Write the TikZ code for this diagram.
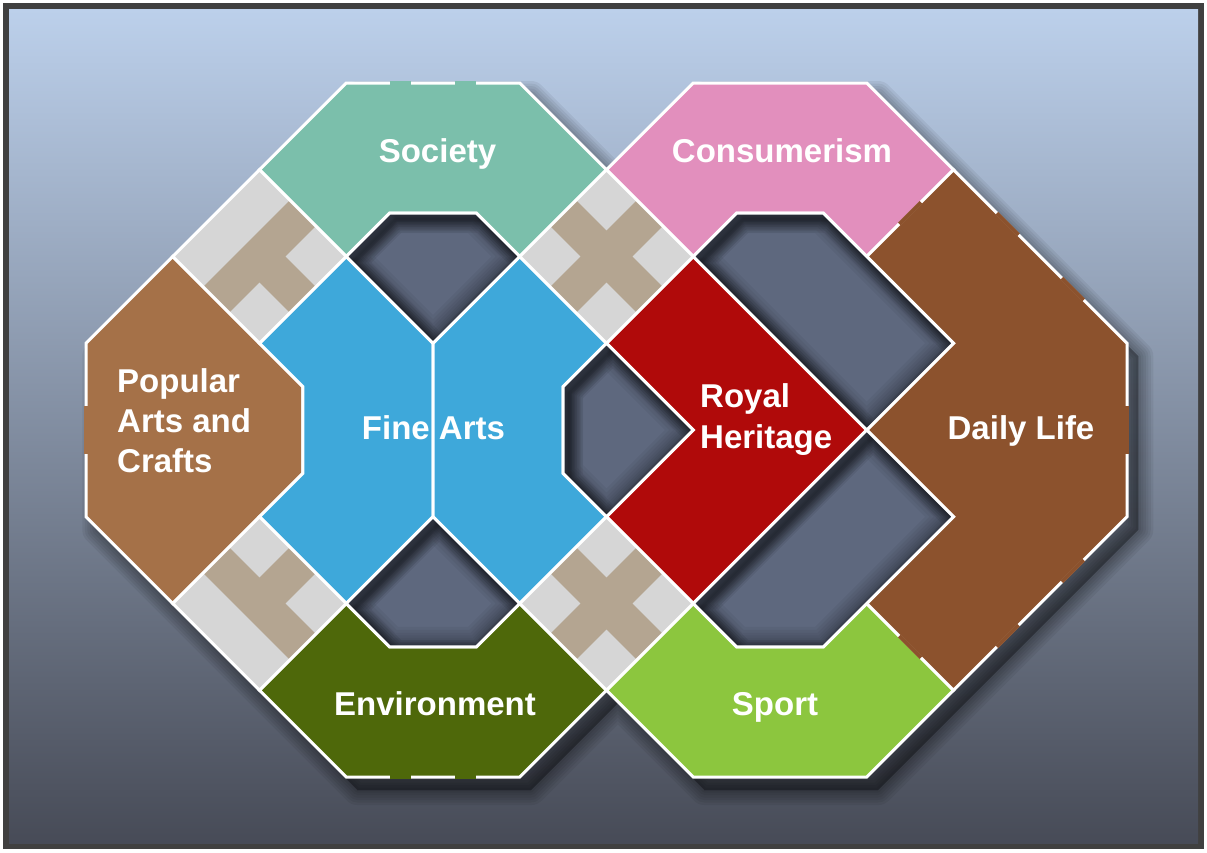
\documentclass[tikz,border=0pt]{standalone}
\usepackage{fontspec}
\setmainfont{Liberation Sans}
\usetikzlibrary{calc}
\definecolor{bgtop}{HTML}{BCD0EB}
\definecolor{bgmid}{HTML}{66728C}
\definecolor{bgbot}{HTML}{474B57}
\definecolor{framegray}{HTML}{404040}
\definecolor{cSoc}{HTML}{7BBFAB}
\definecolor{cCon}{HTML}{E28FBD}
\definecolor{cPac}{HTML}{A57148}
\definecolor{cDaily}{HTML}{8C522D}
\definecolor{cFine}{HTML}{3EA8DA}
\definecolor{cRoyal}{HTML}{B00A0A}
\definecolor{cEnv}{HTML}{4E680A}
\definecolor{cSport}{HTML}{8CC63E}
\definecolor{cGray}{HTML}{D6D6D6}
\definecolor{cTan}{HTML}{B4A591}
\definecolor{cHole}{HTML}{5E687E}
\newcommand\lblfont{\bfseries\fontsize{33}{40}\selectfont}
\tikzset{
  reg/.style={draw=white, line width=3pt, line join=miter},
  wline/.style={draw=white, line width=3pt, line join=miter},
  gapseg/.style={line width=3.6pt, line cap=butt},
  lbl/.style={text=white, font=\lblfont, inner sep=0pt},
}
\newcommand\gsq[1]{\fill[cGray] (#1) ++(-0.7,0) -- ++(0.7,-0.7) -- ++(0.7,0.7) -- ++(-0.7,0.7) -- cycle;}
\newcommand\holeshape[2]{%
  \begin{scope}
    \clip (#1) #2;
    \fill[cHole] (#1) #2;
    \foreach \w in {40,34,28,23,18,14,10,7,4}{%
      \draw[black,opacity=0.045,line width=\w pt,line join=round] (#1) #2;}
    \begin{scope}[shift={(0.15,0.15)}]
      \foreach \w in {26,22,18,14,11,8,5,3}{%
        \draw[black,opacity=0.07,line width=\w pt,line join=round] (#1) #2;}
    \end{scope}
  \end{scope}
  \draw[wline] (#1) #2;}
\newcommand\lab[4]{\node[lbl,anchor=#3] (#1) at (#2) {#4};}
\def\figoutline{(-8,-2) -- (-2,-8) -- (2,-8) -- (4,-6) -- (6,-8) -- (10,-8) -- (16,-2) -- (16,2) -- (10,8) -- (6,8) -- (4,6) -- (2,8) -- (-2,8) -- (-8,2) -- cycle}
\begin{document}
\begin{tikzpicture}[x=1pt,y=-1pt]
\useasboundingbox (0,0) rectangle (1207,852);
\fill[white] (0,0) rectangle (1207,852);
\fill[framegray] (3,3) rectangle (1204,849);
\shade[top color=bgtop, middle color=bgmid, bottom color=bgbot] (9,9) rectangle (1198,843);

\begin{scope}[shift={(433pt,-430pt)}, x=43.375pt, y=-43.375pt]
  % soft drop shadow of the whole figure
  \begin{scope}[shift={(0.26,0.3)}]
    \foreach \w in {30,25,20,15,10,5}{%
      \filldraw[black,opacity=0.06,line width=\w pt,line join=round] \figoutline;}
  \end{scope}

  % coloured regions
  \filldraw[reg, fill=cSoc] (-4,-6) -- (-2,-8) -- (2,-8) -- (4,-6) -- (2,-4) -- (1,-5) -- (-1,-5) -- (-2,-4) -- cycle;
  \filldraw[reg, fill=cCon] (4,-6) -- (6,-8) -- (10,-8) -- (12,-6) -- (10,-4) -- (9,-5) -- (7,-5) -- (6,-4) -- cycle;
  \filldraw[reg, fill=cEnv] (-4,6) -- (-2,8) -- (2,8) -- (4,6) -- (2,4) -- (1,5) -- (-1,5) -- (-2,4) -- cycle;
  \filldraw[reg, fill=cSport] (4,6) -- (6,8) -- (10,8) -- (12,6) -- (10,4) -- (9,5) -- (7,5) -- (6,4) -- cycle;
  \filldraw[reg, fill=cPac] (-8,-2) -- (-6,-4) -- (-3,-1) -- (-3,1) -- (-6,4) -- (-8,2) -- cycle;
  \filldraw[reg, fill=cFine] (-2,-4) -- (0,-2) -- (0,2) -- (-2,4) -- (-4,2) -- (-3,1) -- (-3,-1) -- (-4,-2) -- cycle;
  \filldraw[reg, fill=cFine] (0,-2) -- (2,-4) -- (4,-2) -- (3,-1) -- (3,1) -- (4,2) -- (2,4) -- (0,2) -- cycle;
  \filldraw[reg, fill=cRoyal] (4,-2) -- (6,-4) -- (10,0) -- (6,4) -- (4,2) -- (6,0) -- cycle;
  \filldraw[reg, fill=cDaily] (12,-6) -- (16,-2) -- (16,2) -- (12,6) -- (10,4) -- (12,2) -- (10,0) -- (12,-2) -- (10,-4) -- cycle;

  % crossing top-left
  \fill[cTan] (-6,-4) -- (-4,-6) -- (-2,-4) -- (-4,-2) -- cycle;
  \fill[cGray] (-6,-4) -- (-4,-6) -- (-3.3,-5.3) -- (-5.3,-3.3) -- cycle;
  \gsq{-2.7,-4}\gsq{-4,-2.7}
  \draw[wline] (-6,-4) -- (-4,-6) -- (-2,-4) -- (-4,-2) -- cycle;
  % crossing bottom-left
  \fill[cTan] (-6,4) -- (-4,2) -- (-2,4) -- (-4,6) -- cycle;
  \fill[cGray] (-6,4) -- (-4,6) -- (-3.3,5.3) -- (-5.3,3.3) -- cycle;
  \gsq{-4,2.7}\gsq{-2.7,4}
  \draw[wline] (-6,4) -- (-4,2) -- (-2,4) -- (-4,6) -- cycle;
  % crossing top-middle
  \fill[cTan] (2,-4) -- (4,-6) -- (6,-4) -- (4,-2) -- cycle;
  \gsq{2.7,-4}\gsq{4,-5.3}\gsq{5.3,-4}\gsq{4,-2.7}
  \draw[wline] (2,-4) -- (4,-6) -- (6,-4) -- (4,-2) -- cycle;
  % crossing bottom-middle
  \fill[cTan] (2,4) -- (4,2) -- (6,4) -- (4,6) -- cycle;
  \gsq{2.7,4}\gsq{4,2.7}\gsq{5.3,4}\gsq{4,5.3}
  \draw[wline] (2,4) -- (4,2) -- (6,4) -- (4,6) -- cycle;

  % holes
  \holeshape{-1,-5}{-- ++(2,0) -- ++(1,1) -- ++(-2,2) -- ++(-2,-2) -- cycle}
  \holeshape{-1,5}{-- ++(2,0) -- ++(1,-1) -- ++(-2,-2) -- ++(-2,2) -- cycle}
  \holeshape{3,-1}{-- ++(1,-1) -- ++(2,2) -- ++(-2,2) -- ++(-1,-1) -- cycle}
  \holeshape{7,-5}{-- ++(2,0) -- ++(3,3) -- ++(-2,2) -- ++(-4,-4) -- cycle}
  \holeshape{7,5}{-- ++(2,0) -- ++(3,-3) -- ++(-2,-2) -- ++(-4,4) -- cycle}

  % gaps in the white outline
  \draw[gapseg,cSoc] (-1,-8) -- (-0.5,-8) (0.5,-8) -- (1,-8);
  \draw[gapseg,cEnv] (-1,8) -- (-0.5,8) (0.5,8) -- (1,8);
  \draw[gapseg,cPac] (-8,-0.55) -- (-8,0.55);
  \draw[gapseg,cDaily] (13,-5) -- (13.5,-4.5) (14.5,-3.5) -- (15,-3);
  \draw[gapseg,cDaily] (13,5) -- (13.5,4.5) (14.5,3.5) -- (15,3);
  \draw[gapseg,cDaily] (16,-0.55) -- (16,0.55);
  \draw[gapseg,cDaily] (10.75,-4.75) -- (11.25,-5.25);
  \draw[gapseg,cDaily] (10.75,4.75) -- (11.25,5.25);
\end{scope}

% labels
\lab{soc}{437.5,162}{base}{Society}
\lab{con}{782,162}{base}{Consumerism}
\lab{pac1}{117,392}{base west}{Popular}
\lab{pac2}{117,432}{base west}{Arts and}
\lab{pac3}{117,472}{base west}{Crafts}
\lab{fine}{433.5,439}{base}{Fine Arts}
\lab{roy1}{700,407}{base west}{Royal}
\lab{roy2}{700,448}{base west}{Heritage}
\lab{daily}{1021,439}{base}{Daily Life}
\lab{env}{435,715}{base}{Environment}
\lab{sport}{775,715}{base}{Sport}
\end{tikzpicture}
\end{document}
